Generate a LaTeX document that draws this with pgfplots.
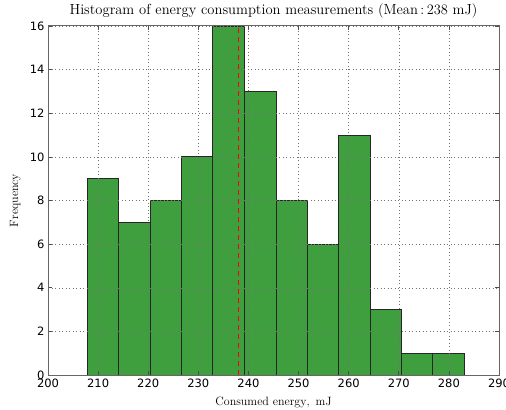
\documentclass[border=0pt]{standalone}
\usepackage{pgfplots}
\pgfplotsset{compat=1.18}
\usepackage{fontspec}
\newfontfamily\dejavu{DejaVu Sans}
\definecolor{histgreen}{RGB}{63,159,63}
\begin{document}
\begin{tikzpicture}
  \begin{axis}[
    scale only axis,
    width=451pt, height=349pt,
    xmin=200, xmax=290, ymin=0, ymax=16,
    xtick={200,210,...,290}, ytick={0,2,...,16},
    tick align=inside, major tick length=4pt,
    tick style={black!70, line width=0.6pt},
    axis line style={black!60, line width=1pt},
    grid=major,
    major grid style={black!55, line width=0.5pt, dash pattern=on 1pt off 2.5pt},
    axis on top,
    ticklabel style={font=\dejavu\fontsize{11.5}{13}\selectfont},
    /pgf/number format/assume math mode=true,
    title={Histogram of energy consumption measurements $(\mathrm{Mean}\,{:}\,238\ \mathrm{mJ})$},
    title style={font=\fontsize{14.6}{17}\selectfont, at={(axis description cs:0.5,1)}, anchor=base, yshift=5pt},
    xlabel={$\mathrm{Consumed\ energy,\ mJ}$},
    ylabel={$\mathrm{Frequency}$},
    label style={font=\fontsize{12}{14}\selectfont},
    xlabel style={at={(axis description cs:0.5,0)}, anchor=base, yshift=-30pt},
    ylabel style={at={(axis description cs:-0.0665,0.5)}, anchor=base},
  ]
    \addplot[ybar interval, fill=histgreen, draw=black!85, line width=0.8pt] coordinates {
      (207.8,9) (214.1,7) (220.4,8) (226.6,10) (232.9,16) (239.2,13)
      (245.5,8) (251.7,6) (258.0,11) (264.3,3) (270.5,1) (276.8,1) (283.0,1)};
    \addplot[red, line width=1.6pt, dash pattern=on 5pt off 4pt] coordinates {(238,0) (238,16)};
  \end{axis}
  \pgfresetboundingbox
  \path[use as bounding box] ([xshift=-48pt,yshift=-34pt]current axis.south west) rectangle ([xshift=7pt,yshift=26pt]current axis.north east);
\end{tikzpicture}
\end{document}
